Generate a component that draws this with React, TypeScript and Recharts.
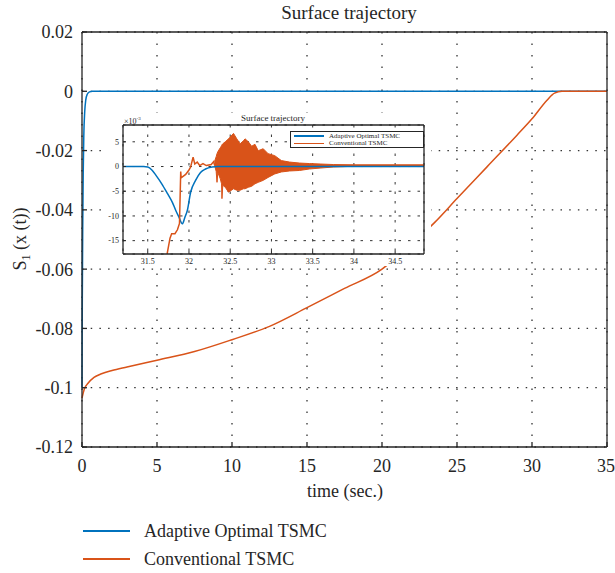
import { ComposedChart, Line, Area, XAxis, YAxis, CartesianGrid } from 'recharts';

const FONT = '"Liberation Serif", "Times New Roman", serif';
const INK = '#262626';
const BLUE = '#0072BD';
const ORANGE = '#D95319';

// main view: sliding surface S1 over the full run
const mainTicksX = [0, 5, 10, 15, 20, 25, 30, 35];
const mainTicksY = [-0.12, -0.1, -0.08, -0.06, -0.04, -0.02, 0, 0.02];

const adaptiveT = [0, 0.02, 0.05, 0.08, 0.12, 0.18, 0.25, 0.35, 0.5, 0.7, 35];
const adaptiveS = [-0.1, -0.07, -0.045, -0.028, -0.015, -0.007, -0.003, -0.001, -0.0002, 0, 0];

const conventionalT = [0, 0.15, 0.4, 0.8, 1.3, 2, 3, 5, 7.5, 10, 12.5, 15, 17.5, 20, 21.5, 23.5, 25, 27, 29, 30, 31, 31.5, 32, 35];
const conventionalS = [
  -0.1035, -0.1005, -0.0985, -0.0965, -0.0953, -0.0942, -0.093, -0.0907, -0.0878, -0.0838, -0.0793, -0.073,
  -0.0665, -0.06, -0.0535, -0.0443, -0.0362, -0.0255, -0.0148, -0.0093, -0.003, -0.0006, 0, 0,
];

// zoomed view around the switching instant (values in units of 1e-3)
const zoomTicksX = [31.5, 32, 32.5, 33, 33.5, 34, 34.5];
const zoomTicksY = [-15, -10, -5, 0, 5];

const zoomAdaptiveT = [31.2, 31.45, 31.5, 31.55, 31.6, 31.67, 31.74, 31.8, 31.84, 31.88, 31.92, 31.95, 31.98, 32.02, 32.08, 32.14, 32.2, 32.28, 32.35, 34.85];
const zoomAdaptiveS = [0, 0, -0.1, -0.7, -1.8, -3.5, -5.5, -7.3, -8.9, -10.3, -11.6, -10.3, -8.9, -5.2, -2.8, -1.2, -0.5, -0.1, 0, 0];

const zoomConvT = [31.735, 31.77, 31.79, 31.83, 31.86, 31.885, 31.9, 31.905, 31.96, 32.0, 32.02, 32.05, 32.07, 32.1, 32.13, 32.17, 32.21, 32.27, 32.3, 32.31];
const zoomConvS = [-17.7, -14.5, -13.6, -13.6, -12.8, -11.5, -1.0, -2.3, -1.6, -0.7, -0.1, 1.9, 0.5, 0.9, 0.2, 0.6, 0.2, 0.4, 1.0, 0.3];

// chattering band of the conventional controller: lower / upper envelope
const chatterT = [32.31, 32.33, 32.34, 32.35, 32.38, 32.395, 32.4, 32.41, 32.44, 32.48, 32.54, 32.58, 32.62, 32.66, 32.68, 32.72, 32.76, 32.8, 32.84, 32.9, 32.96, 33.04, 33.12, 33.22, 33.34, 33.46, 33.6, 33.75, 34.0, 34.85];
const chatterLow = [0.3, -1.0, -3.2, -1.2, -2.5, -3.5, -6.5, -3.8, -4.2, -5.2, -4.5, -4.8, -4.8, -4.5, -4.5, -4.2, -4.0, -3.5, -3.2, -2.8, -2.2, -1.5, -1.1, -0.9, -0.8, -0.5, -0.3, -0.1, 0.05, 0.05];
const chatterHigh = [1.0, 2.0, 2.6, 3.0, 3.8, 4.2, 4.4, 4.6, 5.0, 5.6, 6.7, 5.6, 4.6, 5.2, 5.6, 5.0, 4.1, 4.5, 3.2, 3.6, 2.6, 2.2, 1.2, 0.9, 0.7, 0.6, 0.5, 0.4, 0.35, 0.35];

const mainAdaptive = adaptiveT.map((t, i) => ({ t, s: adaptiveS[i] }));
const mainConventional = conventionalT.map((t, i) => ({ t, s: conventionalS[i] }));
const zoomAdaptive = zoomAdaptiveT.map((t, i) => ({ t, s: zoomAdaptiveS[i] }));
const zoomConventional = zoomConvT.map((t, i) => ({ t, s: zoomConvS[i] }));
const zoomChatter = chatterT.map((t, i) => ({ t, range: [chatterLow[i], chatterHigh[i]] }));

const mainTick = { fontFamily: FONT, fontSize: 18, fill: INK };
const zoomTick = { fontFamily: FONT, fontSize: 8, fill: INK };
const axisLine = { stroke: INK, strokeWidth: 1.3 };

function ZoomPanel() {
  return (
    <div style={{ position: 'absolute', left: 104, top: 113, width: 327, height: 153, background: '#fff' }}>
      <ComposedChart width={327} height={153} margin={{ top: 11, right: 6, left: 0, bottom: 0 }}>
        <CartesianGrid stroke="#333" strokeDasharray="2.5 7" strokeWidth={1} />
        <XAxis
          dataKey="t"
          type="number"
          domain={[31.2, 34.85]}
          ticks={zoomTicksX}
          allowDataOverflow
          height={12}
          tick={zoomTick}
          tickSize={-3}
          tickMargin={7}
          axisLine={axisLine}
          tickLine={{ stroke: INK }}
        />
        <XAxis xAxisId="top" orientation="top" type="number" domain={[31.2, 34.85]} ticks={zoomTicksX} height={1} tick={false} tickSize={-3} axisLine={axisLine} tickLine={{ stroke: INK }} />
        <YAxis
          type="number"
          domain={[-17.7, 8.4]}
          ticks={zoomTicksY}
          allowDataOverflow
          width={19}
          tick={zoomTick}
          tickSize={-3}
          tickMargin={7}
          axisLine={axisLine}
          tickLine={{ stroke: INK }}
        />
        <YAxis yAxisId="right" orientation="right" type="number" domain={[-17.7, 8.4]} ticks={zoomTicksY} width={1} tick={false} tickSize={-3} axisLine={axisLine} tickLine={{ stroke: INK }} />
        <Line data={zoomAdaptive} dataKey="s" type="monotone" stroke={BLUE} strokeWidth={1.5} dot={false} isAnimationActive={false} />
        <Line data={zoomConventional} dataKey="s" stroke={ORANGE} strokeWidth={1.5} dot={false} isAnimationActive={false} />
        <Area data={zoomChatter} dataKey="range" stroke={ORANGE} strokeWidth={1} fill={ORANGE} fillOpacity={1} isAnimationActive={false} />
      </ComposedChart>
      <div style={{ position: 'absolute', left: 169, top: 0, transform: 'translateX(-50%)', fontSize: 9, whiteSpace: 'nowrap' }}>
        Surface trajectory
      </div>
      <div style={{ position: 'absolute', left: 20, top: 3, fontSize: 8, whiteSpace: 'nowrap' }}>
        ×10<sup style={{ fontSize: 5 }}>-3</sup>
      </div>
      <div
        style={{
          position: 'absolute', left: 186, top: 18, width: 132, height: 15,
          border: `1px solid ${INK}`, background: '#fff', fontSize: 7, lineHeight: '7px',
        }}
      >
        {[
          { label: 'Adaptive Optimal TSMC', color: BLUE },
          { label: 'Conventional TSMC', color: ORANGE },
        ].map((it, i) => (
          <div key={it.label} style={{ position: 'absolute', left: 3, top: 0.5 + i * 7.5, height: 7, display: 'flex', alignItems: 'center', whiteSpace: 'nowrap' }}>
            <span style={{ display: 'inline-block', width: 30, height: 1.5, background: it.color, marginRight: 5 }} />
            {it.label}
          </div>
        ))}
      </div>
    </div>
  );
}

export default function App() {
  return (
    <div style={{ position: 'absolute', left: 0, top: 0, width: 615, height: 573, background: '#fff', fontFamily: FONT, color: INK }}>
      <div style={{ position: 'absolute', left: 349, top: 2, transform: 'translateX(-50%)', fontSize: 19, whiteSpace: 'nowrap' }}>
        Surface trajectory
      </div>
      <div style={{ position: 'absolute', left: 0, top: 0 }}>
        <ComposedChart width={615} height={480} margin={{ top: 31, right: 7, left: 0, bottom: 10 }}>
          <CartesianGrid vertical={false} stroke="#333" strokeDasharray="1.5 7.2" strokeWidth={1.3} />
          <CartesianGrid horizontal={false} stroke="#333" strokeDasharray="1.5 10" strokeWidth={1.3} />
          <XAxis
            dataKey="t"
            type="number"
            domain={[0, 35]}
            ticks={mainTicksX}
            height={23}
            tick={mainTick}
            tickSize={-5}
            tickMargin={17}
            axisLine={axisLine}
            tickLine={axisLine}
          />
          <XAxis xAxisId="top" orientation="top" type="number" domain={[0, 35]} ticks={mainTicksX} height={1} tick={false} tickSize={-5} axisLine={axisLine} tickLine={axisLine} />
          <YAxis
            type="number"
            domain={[-0.12, 0.02]}
            ticks={mainTicksY}
            width={82}
            tick={mainTick}
            tickSize={-5}
            tickMargin={14}
            tickFormatter={(v: number) => String(v)}
            axisLine={axisLine}
            tickLine={axisLine}
          />
          <YAxis yAxisId="right" orientation="right" type="number" domain={[-0.12, 0.02]} ticks={mainTicksY} width={1} tick={false} tickSize={-5} axisLine={axisLine} tickLine={axisLine} />
          <Line data={mainAdaptive} dataKey="s" type="monotone" stroke={BLUE} strokeWidth={1.5} dot={false} isAnimationActive={false} />
          <Line data={mainConventional} dataKey="s" type="monotone" stroke={ORANGE} strokeWidth={1.5} dot={false} isAnimationActive={false} />
        </ComposedChart>
      </div>
      <div
        style={{
          position: 'absolute', left: 22, top: 239, transform: 'translate(-50%, -50%) rotate(-90deg)',
          fontSize: 18, whiteSpace: 'nowrap',
        }}
      >
        S<sub style={{ fontSize: 12 }}>1</sub> (x (t))
      </div>
      <div style={{ position: 'absolute', left: 345, top: 481, transform: 'translateX(-50%)', fontSize: 18, whiteSpace: 'nowrap' }}>
        time (sec.)
      </div>
      <ZoomPanel />
      {[
        { label: 'Adaptive Optimal TSMC', color: BLUE, y: 531 },
        { label: 'Conventional TSMC', color: ORANGE, y: 559 },
      ].map((it) => (
        <div key={it.label} style={{ position: 'absolute', left: 83, top: it.y - 12, height: 24, display: 'flex', alignItems: 'center', fontSize: 18, whiteSpace: 'nowrap' }}>
          <span style={{ display: 'inline-block', width: 47, height: 2, background: it.color, marginRight: 14 }} />
          {it.label}
        </div>
      ))}
    </div>
  );
}
